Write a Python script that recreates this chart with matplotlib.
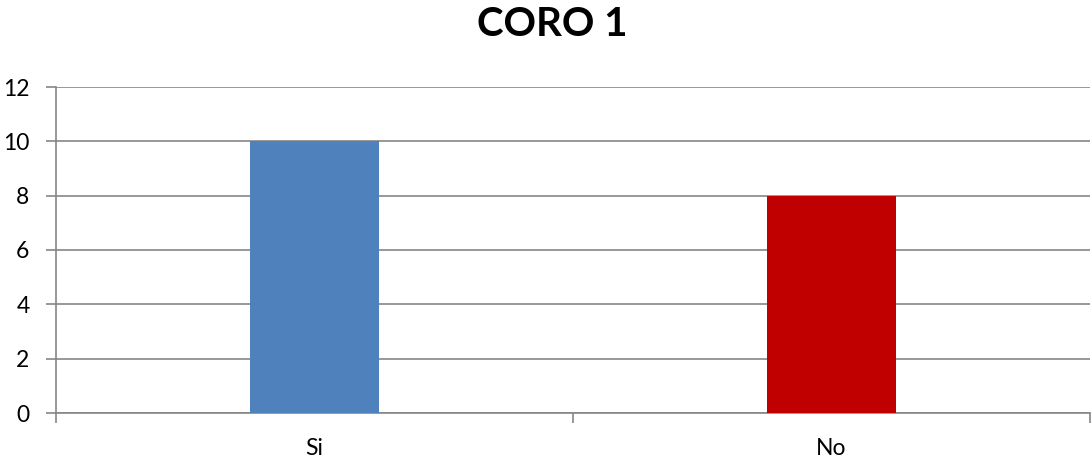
import matplotlib
matplotlib.use("Agg")
import matplotlib.pyplot as plt

categorias = ["Si", "No"]
valores = [10, 8]
colores = ["#4F81BD", "#C00000"]
y_ticks = [0, 2, 4, 6, 8, 10, 12]

plt.rcParams['font.family'] = ['Lato', 'DejaVu Sans']

fig = plt.figure(figsize=(10.91, 4.62), dpi=100)
ax = fig.add_axes([56/1091, 1-413/462, 1034/1091, 326/462])

x = range(len(categorias))
ax.bar(x, valores, width=0.25, color=colores, zorder=3)

ax.set_xlim(-0.5, len(categorias)-0.5)
ax.set_ylim(0, 12)
ax.set_yticks(y_ticks)
ax.set_xticks(list(x))
ax.set_xticklabels(categorias, fontsize=16.5)
ax.set_xticks([-0.5, 0.5, 1.5], minor=True)
ax.tick_params(axis='x', which='major', length=0, pad=18)
ax.tick_params(axis='x', which='minor', length=7, width=1.2, color='#868686', direction='out')
ax.tick_params(axis='y', length=7, width=1.2, color='#868686', labelsize=16.5, pad=12)

ax.grid(axis='y', color='#868686', linewidth=1.2, zorder=0)
for s in ['top', 'right']:
    ax.spines[s].set_visible(False)
for s in ['left', 'bottom']:
    ax.spines[s].set_color('#868686')
    ax.spines[s].set_linewidth(1.2)

fig.text(552/1091, 1-25/462, "CORO 1", ha='center', va='center', fontsize=29, fontweight='bold')

fig.savefig("out.png", dpi=100)
